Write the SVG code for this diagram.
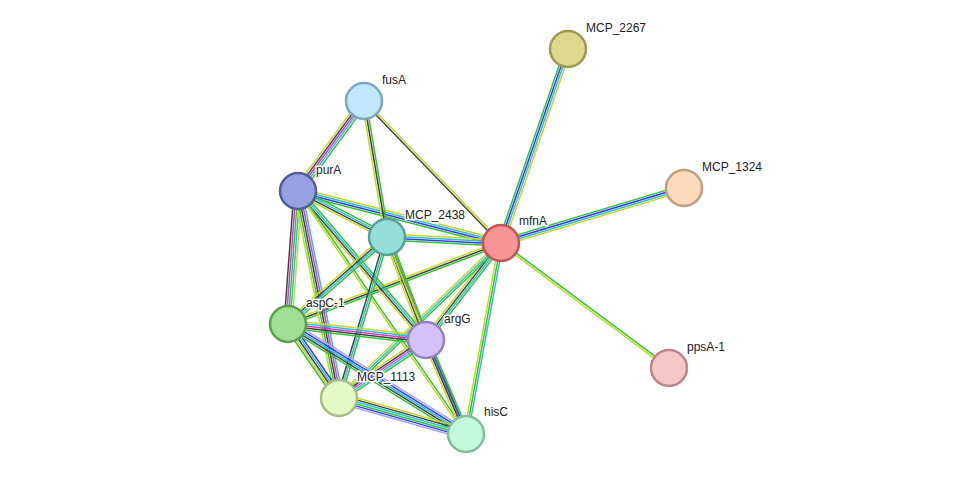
<svg xmlns="http://www.w3.org/2000/svg" width="976" height="480" viewBox="0 0 976 480">
<style>
#edges line{vector-effect:non-scaling-stroke;stroke-width:1.5;fill:none}
.g{stroke:#33c433}.y{stroke:#c3d829}.b{stroke:#3a3aff}.c{stroke:#2fbdd8}.k{stroke:#444}.m{stroke:#d838d8}.l{stroke:#a6a6ff}
.n circle{stroke-width:2.5}
text{font-family:"Liberation Sans",Arial,sans-serif;font-size:12px;fill:#222;paint-order:stroke;stroke:#fff;stroke-width:3px;stroke-linejoin:round}
</style>
<rect width="976" height="480" fill="#fff"/>
<g id="edges">
<g transform="matrix(67,-194,0.946,0.327,501,243)"><line x2="1" y1="-3" y2="-3" class="g"/><line x2="1" y1="-1" y2="-1" class="b"/><line x2="1" y1="1" y2="1" class="c"/><line x2="1" y1="3" y2="3" class="y"/></g>
<g transform="matrix(183,-55,0.288,0.958,501,243)"><line x2="1" y1="-3" y2="-3" class="g"/><line x2="1" y1="-1" y2="-1" class="b"/><line x2="1" y1="1" y2="1" class="c"/><line x2="1" y1="3" y2="3" class="y"/></g>
<g transform="matrix(168,125,-0.598,0.804,501,243)"><line x2="1" y1="-1" y2="-1" class="g"/><line x2="1" y1="1" y2="1" class="y"/></g>
<g transform="matrix(-137,-142,0.721,-0.695,501,243)"><line x2="1" y1="-1" y2="-1" class="k"/><line x2="1" y1="1" y2="1" class="y"/></g>
<g transform="matrix(-203,-52,0.248,-0.967,501,243)"><line x2="1" y1="-3" y2="-3" class="g"/><line x2="1" y1="-1" y2="-1" class="b"/><line x2="1" y1="1" y2="1" class="c"/><line x2="1" y1="3" y2="3" class="y"/></g>
<g transform="matrix(-114,-6,0.053,-1,501,243)"><line x2="1" y1="-3" y2="-3" class="g"/><line x2="1" y1="-1" y2="-1" class="b"/><line x2="1" y1="1" y2="1" class="c"/><line x2="1" y1="3" y2="3" class="y"/></g>
<g transform="matrix(-213,81,-0.355,-0.934,501,243)"><line x2="1" y1="-2" y2="-2" class="g"/><line x2="1" y1="0" y2="0" class="k"/><line x2="1" y1="2" y2="2" class="y"/></g>
<g transform="matrix(-75,97,-0.789,-0.61,501,243)"><line x2="1" y1="-3" y2="-3" class="g"/><line x2="1" y1="-1" y2="-1" class="c"/><line x2="1" y1="1" y2="1" class="k"/><line x2="1" y1="3" y2="3" class="y"/></g>
<g transform="matrix(-162,155,-0.692,-0.723,501,243)"><line x2="1" y1="-2" y2="-2" class="g"/><line x2="1" y1="0" y2="0" class="c"/><line x2="1" y1="2" y2="2" class="y"/></g>
<g transform="matrix(-35,191,-0.985,-0.18,501,243)"><line x2="1" y1="-2" y2="-2" class="c"/><line x2="1" y1="0" y2="0" class="g"/><line x2="1" y1="2" y2="2" class="y"/></g>
<g transform="matrix(-66,90,-0.804,-0.589,364,101)"><line x2="1" y1="-4" y2="-4" class="g"/><line x2="1" y1="-2" y2="-2" class="c"/><line x2="1" y1="0" y2="0" class="m"/><line x2="1" y1="2" y2="2" class="k"/><line x2="1" y1="4" y2="4" class="y"/></g>
<g transform="matrix(23,136,-0.986,0.167,364,101)"><line x2="1" y1="-2" y2="-2" class="g"/><line x2="1" y1="0" y2="0" class="k"/><line x2="1" y1="2" y2="2" class="y"/></g>
<g transform="matrix(89,46,-0.46,0.89,298,191)"><line x2="1" y1="-3" y2="-3" class="g"/><line x2="1" y1="-1" y2="-1" class="c"/><line x2="1" y1="1" y2="1" class="k"/><line x2="1" y1="3" y2="3" class="y"/></g>
<g transform="matrix(-10,133,-0.997,-0.075,298,191)"><line x2="1" y1="-4" y2="-4" class="y"/><line x2="1" y1="-2" y2="-2" class="c"/><line x2="1" y1="0" y2="0" class="g"/><line x2="1" y1="2" y2="2" class="m"/><line x2="1" y1="4" y2="4" class="k"/></g>
<g transform="matrix(128,149,-0.76,0.653,298,191)"><line x2="1" y1="-3" y2="-3" class="g"/><line x2="1" y1="-1" y2="-1" class="c"/><line x2="1" y1="1" y2="1" class="k"/><line x2="1" y1="3" y2="3" class="y"/></g>
<g transform="matrix(41,207,-0.981,0.194,298,191)"><line x2="1" y1="-4" y2="-4" class="c"/><line x2="1" y1="-2" y2="-2" class="m"/><line x2="1" y1="0" y2="0" class="k"/><line x2="1" y1="2" y2="2" class="g"/><line x2="1" y1="4" y2="4" class="y"/></g>
<g transform="matrix(168,243,-0.824,0.569,298,191)"><line x2="1" y1="-1" y2="-1" class="g"/><line x2="1" y1="1" y2="1" class="y"/></g>
<g transform="matrix(-99,87,-0.659,-0.75,387,237)"><line x2="1" y1="-3" y2="-3" class="g"/><line x2="1" y1="-1" y2="-1" class="c"/><line x2="1" y1="1" y2="1" class="k"/><line x2="1" y1="3" y2="3" class="y"/></g>
<g transform="matrix(39,103,-0.936,0.355,387,237)"><line x2="1" y1="-3" y2="-3" class="g"/><line x2="1" y1="-1" y2="-1" class="m"/><line x2="1" y1="1" y2="1" class="k"/><line x2="1" y1="3" y2="3" class="y"/></g>
<g transform="matrix(-48,161,-0.958,-0.286,387,237)"><line x2="1" y1="-2" y2="-2" class="g"/><line x2="1" y1="0" y2="0" class="c"/><line x2="1" y1="2" y2="2" class="k"/></g>
<g transform="matrix(79,197,-0.929,0.373,387,237)"><line x2="1" y1="-1" y2="-1" class="g"/><line x2="1" y1="1" y2="1" class="y"/></g>
<g transform="matrix(138,16,-0.115,0.993,288,324)"><line x2="1" y1="-4" y2="-4" class="y"/><line x2="1" y1="-2" y2="-2" class="c"/><line x2="1" y1="0" y2="0" class="m"/><line x2="1" y1="2" y2="2" class="k"/><line x2="1" y1="4" y2="4" class="g"/></g>
<g transform="matrix(51,74,-0.822,0.567,288,324)"><line x2="1" y1="-4" y2="-4" class="b"/><line x2="1" y1="-2" y2="-2" class="c"/><line x2="1" y1="0" y2="0" class="k"/><line x2="1" y1="2" y2="2" class="y"/><line x2="1" y1="4" y2="4" class="g"/></g>
<g transform="matrix(178,110,-0.526,0.852,288,324)"><line x2="1" y1="-4" y2="-4" class="l"/><line x2="1" y1="-2" y2="-2" class="b"/><line x2="1" y1="0" y2="0" class="c"/><line x2="1" y1="2" y2="2" class="k"/><line x2="1" y1="4" y2="4" class="g"/></g>
<g transform="matrix(-87,58,-0.552,-0.829,426,340)"><line x2="1" y1="-4" y2="-4" class="g"/><line x2="1" y1="-2" y2="-2" class="c"/><line x2="1" y1="0" y2="0" class="m"/><line x2="1" y1="2" y2="2" class="k"/><line x2="1" y1="4" y2="4" class="y"/></g>
<g transform="matrix(40,94,-0.922,0.392,426,340)"><line x2="1" y1="-3" y2="-3" class="g"/><line x2="1" y1="-1" y2="-1" class="b"/><line x2="1" y1="1" y2="1" class="k"/><line x2="1" y1="3" y2="3" class="y"/></g>
<g transform="matrix(127,36,-0.273,0.962,339,398)"><line x2="1" y1="-5" y2="-5" class="y"/><line x2="1" y1="-3" y2="-3" class="k"/><line x2="1" y1="-1" y2="-1" class="c"/><line x2="1" y1="1" y2="1" class="g"/><line x2="1" y1="3" y2="3" class="b"/><line x2="1" y1="5" y2="5" class="l"/></g>
</g>
<g id="MCP_2267" class="n"><circle cx="568" cy="49" r="18" fill="#dcd98f" stroke="#9d9a55"/><text x="586" y="32">MCP_2267</text></g>
<g id="fusA" class="n"><circle cx="364" cy="101" r="18" fill="#bfe9fb" stroke="#7aa7c2"/><text x="382" y="84">fusA</text></g>
<g id="purA" class="n"><circle cx="298" cy="191" r="18" fill="#97a1df" stroke="#525d9c"/><text x="316" y="174">purA</text></g>
<g id="MCP_2438" class="n"><circle cx="387" cy="237" r="18" fill="#94dfd5" stroke="#58a198"/><text x="405" y="219">MCP_2438</text></g>
<g id="mfnA" class="n"><circle cx="501" cy="243" r="18" fill="#f99494" stroke="#c05656"/><text x="519" y="225">mfnA</text></g>
<g id="MCP_1324" class="n"><circle cx="684" cy="188" r="18" fill="#fddab9" stroke="#c19e80"/><text x="702" y="171">MCP_1324</text></g>
<g id="aspC-1" class="n"><circle cx="288" cy="324" r="18" fill="#9fdf94" stroke="#5f9d55"/><text x="306" y="307">aspC-1</text></g>
<g id="argG" class="n"><circle cx="426" cy="340" r="18" fill="#d3c1f9" stroke="#9381c1"/><text x="444" y="323">argG</text></g>
<g id="ppsA-1" class="n"><circle cx="669" cy="368" r="18" fill="#f7c6c7" stroke="#b98789"/><text x="687" y="351">ppsA-1</text></g>
<g id="MCP_1113" class="n"><circle cx="339" cy="398" r="18" fill="#e3fcc4" stroke="#a6bd86"/><text x="357" y="381">MCP_1113</text></g>
<g id="hisC" class="n"><circle cx="466" cy="434" r="18" fill="#c1fbdb" stroke="#80be9c"/><text x="484" y="416">hisC</text></g>
</svg>
